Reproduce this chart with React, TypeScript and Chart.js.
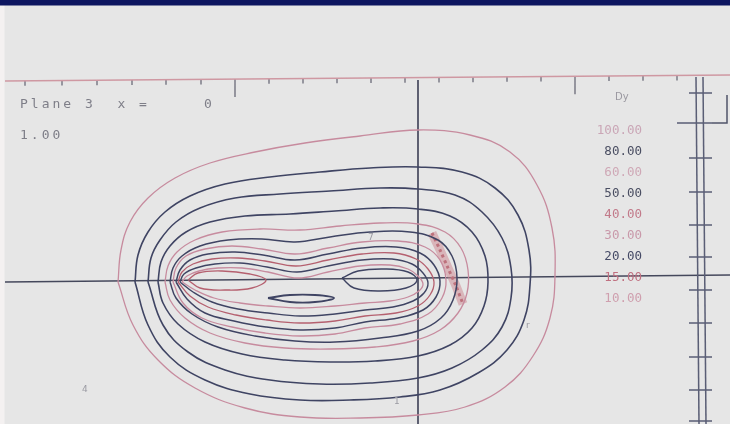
import React, { useEffect, useRef } from "react";
import { Chart, registerables } from "chart.js";

Chart.register(...registerables);

type XY = [number, number];

// ---- texts ----
const planeLabel = "Plane 3  x =     0";
const scaleLabel = "1.00";
const doseUnit = "Dy";
const doseLevels = ["100.00", "80.00", "60.00", "50.00", "40.00", "30.00", "20.00", "15.00", "10.00"];
const strayMarks = ["4", "1", "7", "r"];

// ---- isodose contours (plot units) ----
const iso1: XY[] = [[118,282],[121,250],[130,222],[148,198],[175,178],[210,163],[255,152],[305,143],[360,136],[418,130],[470,135],[510,152],[537,185],[552,228],[555,275],[550,318],[533,356],[505,387],[465,407],[418,415],[360,418],[300,417],[245,408],[195,388],[158,360],[133,325]];
const iso2: XY[] = [[135,282],[138,255],[148,232],[165,212],[190,196],[225,184],[270,177],[320,172],[370,168],[418,167],[462,172],[495,188],[518,215],[529,250],[530,285],[524,320],[507,350],[478,373],[440,390],[400,397],[350,400],[300,400],[250,394],[205,380],[170,357],[148,325]];
const iso3: XY[] = [[148,282],[151,258],[160,240],[176,222],[200,208],[235,198],[280,194],[330,191],[380,188],[418,189],[455,195],[482,212],[502,238],[511,268],[511,298],[502,327],[482,350],[452,368],[418,378],[370,383],[320,384],[270,380],[225,370],[188,352],[163,325]];
const iso4: XY[] = [[158,282],[161,262],[170,246],[186,232],[210,222],[245,216],[290,214],[335,211],[380,208],[418,209],[450,216],[472,232],[485,256],[488,282],[484,306],[472,328],[450,345],[418,356],[375,361],[330,362],[285,360],[242,354],[205,342],[178,324],[163,303]];
const iso5: XY[] = [[165,282],[168,266],[177,252],[195,240],[222,232],[260,229],[300,230],[340,226],[380,223],[418,224],[445,232],[461,248],[468,270],[467,293],[458,313],[440,330],[413,341],[375,347],[330,349],[285,348],[245,343],[210,333],[185,318],[170,300]];
const iso6: XY[] = [[170,282],[173,268],[182,256],[200,246],[228,240],[262,239],[295,242],[330,237],[370,232],[410,232],[438,240],[452,256],[457,278],[453,300],[441,318],[418,331],[380,338],[335,342],[295,341],[255,336],[218,327],[192,314],[176,298]];
const iso7: XY[] = [[173,282],[176,268],[186,256],[205,249],[232,246],[262,249],[295,254],[328,248],[362,242],[398,241],[425,247],[440,260],[446,280],[442,298],[428,314],[400,324],[365,328],[335,334],[300,336],[265,333],[232,327],[202,318],[183,303]];
const iso8: XY[] = [[176,282],[180,270],[190,260],[208,254],[235,252],[263,255],[295,260],[328,254],[362,248],[396,247],[420,253],[434,265],[440,281],[436,297],[423,310],[398,318],[365,322],[335,328],[300,330],[266,327],[234,321],[205,313],[187,299]];
const iso9: XY[] = [[178,282],[182,272],[193,264],[212,259],[238,258],[265,261],[296,266],[328,260],[362,254],[394,253],[416,259],[428,269],[434,282],[430,295],[418,306],[396,313],[365,316],[335,321],[300,323],[267,320],[236,315],[208,307],[190,296]];
const iso10: XY[] = [[180,282],[184,274],[196,268],[215,264],[240,263],[267,267],[297,272],[328,266],[362,260],[392,259],[412,264],[423,273],[428,283],[424,293],[413,301],[393,307],[365,310],[335,314],[300,316],[268,313],[238,309],[212,302],[193,292]];
const iso11: XY[] = [[182,282],[187,276],[199,271],[218,268],[242,268],[268,272],[298,278],[328,272],[360,266],[390,265],[408,269],[418,276],[423,284],[419,291],[408,297],[390,301],[365,303],[335,306],[300,308],[268,306],[240,303],[214,298],[195,290]];
const lobeLeft: XY[] = [[188,280],[198,273],[222,271],[250,274],[266,280],[252,288],[225,290],[200,288]];
const lobeRight: XY[] = [[342,278],[358,271],[385,269],[408,272],[417,280],[406,288],[380,291],[354,288]];
const lobeMid: XY[] = [[268,298],[290,295],[315,295],[334,298],[315,302],[290,302]];
const hotStreak: XY[] = [[432,233],[440,250],[448,268],[456,286],[463,304]];

// ---- frame / axes (plot units) ----
const frameTop: XY[] = [[5,81],[730,75]];
const frameRightA: XY[] = [[696,77],[699,424]];
const frameRightB: XY[] = [[703,77],[706,424]];
const crossV: XY[] = [[418,80],[418,424]];
const crossH: XY[] = [[5,282],[730,275]];
const panelBracket: XY[] = [[712,123],[727,123],[727,95]];
const topTickX = [25,62,97,132,166,201,235,269,303,337,371,405,439,473,507,541,575,609,643,677];
const majorTopTickX = [235, 575];
const sideTickY = [93,123,158,192,225,257,290,323,357,390,421];

const DARK = "#3f4463";
const PINK = "#c78b9e";
const RED = "#b5606f";

const contourList: XY[][] = [iso1, iso2, iso3, iso4, iso5, iso6, iso7, iso8, iso9, iso10, iso11, lobeLeft, lobeRight, lobeMid];
const contourColors = [PINK, DARK, DARK, DARK, PINK, DARK, PINK, DARK, RED, DARK, PINK, RED, DARK, DARK];
const contourWidths = [1.3, 1.6, 1.6, 1.6, 1.3, 1.5, 1.3, 1.5, 1.3, 1.4, 1.3, 1.3, 1.4, 1.8];
const levelColors = ["#caa6b6", "#4a4e62", "#cfa8b6", "#4a4e62", "#c27a8a", "#c999aa", "#454a66", "#c07080", "#cf9fae"];

const toPts = (p: XY[]) => p.map(([x, y]) => ({ x, y }));
const closed = (p: XY[]) => toPts([...p, p[0]]);
const gap = { x: NaN, y: NaN };

export default function App() {
  const ref = useRef<HTMLCanvasElement | null>(null);

  useEffect(() => {
    document.body.style.margin = "0";
    const canvas = ref.current;
    if (!canvas) return;

    const line = (data: any[], color: string, width: number, tension = 0, extra: any = {}) => ({
      data,
      showLine: true,
      borderColor: color,
      borderWidth: width,
      tension,
      pointRadius: 0,
      fill: false,
      spanGaps: false,
      ...extra,
    });

    const topTicks: any[] = [];
    topTickX.forEach((x) => {
      const yb = 81 - (6 * (x - 5)) / 725;
      const len = majorTopTickX.includes(x) ? 18 : 5;
      topTicks.push({ x, y: yb }, { x, y: yb + len }, gap);
    });
    const sideTicks: any[] = [];
    sideTickY.forEach((y, i) => {
      const x0 = i === 1 ? 677 : 689;
      sideTicks.push({ x: x0, y }, { x: 712, y }, gap);
    });

    const datasets: any[] = [];
    datasets.push(line(toPts([[0, 2.5], [730, 2.5]]), "#0d1660", 6));
    datasets.push(line(toPts([[2, 0], [2, 424]]), "#f4f1f1", 5));
    datasets.push(line(toPts(frameTop), "#cf98a2", 1.6));
    datasets.push(line(topTicks, "#6a6a78", 1.3));
    datasets.push(line(toPts(frameRightA), "#5a5e75", 1.5));
    datasets.push(line(toPts(frameRightB), "#5a5e75", 1.5));
    datasets.push(line(sideTicks, "#5a5e75", 1.3));
    datasets.push(line(toPts(panelBracket), "#50546a", 1.5));
    contourList.forEach((c, i) => {
      datasets.push(line(closed(c), contourColors[i], contourWidths[i], 0.4));
    });
    datasets.push(line(toPts(hotStreak), "rgba(205,140,150,0.55)", 9, 0.3));
    datasets.push(line(toPts(hotStreak), "#a8505e", 3, 0.3, { borderDash: [3, 3] }));
    datasets.push(line(toPts(crossV), "#3c3f55", 1.6));
    datasets.push(line(toPts(crossH), "#45485c", 1.6));

    const bgPlugin = {
      id: "bg",
      beforeDraw(chart: any) {
        const { ctx, width, height } = chart;
        ctx.save();
        ctx.fillStyle = "#e6e6e6";
        ctx.fillRect(0, 0, width, height);
        ctx.restore();
      },
    };

    const textPlugin = {
      id: "texts",
      afterDatasetsDraw(chart: any) {
        const { ctx } = chart;
        const sx = chart.scales.x;
        const sy = chart.scales.y;
        const px = (v: number) => sx.getPixelForValue(v);
        const py = (v: number) => sy.getPixelForValue(v);
        ctx.save();
        ctx.textBaseline = "alphabetic";
        ctx.font = "13px 'DejaVu Sans Mono', monospace";
        (ctx as any).letterSpacing = "3px";
        ctx.fillStyle = "#7e7e88";
        ctx.textAlign = "left";
        ctx.fillText(planeLabel, px(20), py(108));
        ctx.fillText(scaleLabel, px(20), py(139));
        (ctx as any).letterSpacing = "0px";
        ctx.font = "10px 'DejaVu Sans', sans-serif";
        ctx.fillStyle = "#9a98a0";
        ctx.fillText(doseUnit, px(615), py(100));
        ctx.font = "12.5px 'DejaVu Sans Mono', monospace";
        ctx.textAlign = "right";
        doseLevels.forEach((t, i) => {
          ctx.fillStyle = levelColors[i];
          ctx.fillText(t, px(642), py(134 + i * 21));
        });
        ctx.textAlign = "left";
        ctx.font = "9px 'DejaVu Sans', sans-serif";
        ctx.fillStyle = "#9a9aa2";
        const markPos: XY[] = [[82, 392], [394, 404], [368, 240], [526, 328]];
        strayMarks.forEach((m, i) => ctx.fillText(m, px(markPos[i][0]), py(markPos[i][1])));
        ctx.restore();
      },
    };

    const chart = new Chart(canvas, {
      type: "scatter",
      data: { datasets },
      options: {
        animation: false,
        responsive: false,
        maintainAspectRatio: false,
        layout: { padding: 0 },
        plugins: { legend: { display: false }, tooltip: { enabled: false } },
        elements: { point: { radius: 0 } },
        scales: {
          x: { type: "linear", min: 0, max: 730, display: false },
          y: { type: "linear", min: 0, max: 424, reverse: true, display: false },
        },
      },
      plugins: [bgPlugin, textPlugin],
    } as any);

    return () => chart.destroy();
  }, []);

  return <canvas ref={ref} width={730} height={424} style={{ display: "block", filter: "blur(0.45px)" }} />;
}
